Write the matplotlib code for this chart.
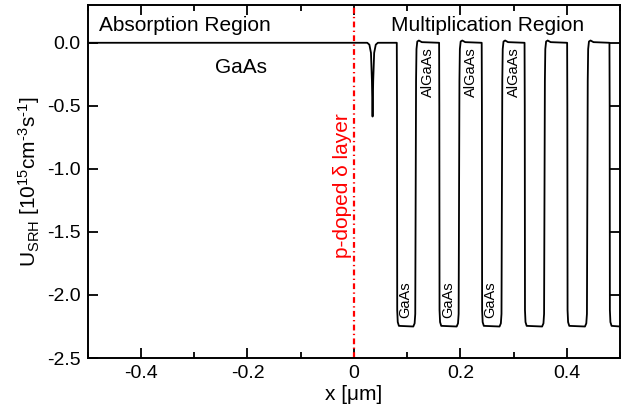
"""
SRH recombination rate across the absorption / multiplication regions.
"""

import matplotlib
matplotlib.use("Agg")
import matplotlib.pyplot as plt
from matplotlib.ticker import MultipleLocator


# -------------------------------------------------
# DATA
# -------------------------------------------------
# position x [um] and U_SRH [1e15 cm^-3 s^-1], vertex by vertex
x_um = [
    -0.5, 0.0250, 0.0290, 0.0320, 0.0338, 0.0350, 0.0362, 0.0380, 0.0410, 0.0450,
    # GaAs well 1
    0.0805, 0.0809, 0.0813, 0.0823, 0.0845, 0.1115, 0.1140, 0.1152,
    0.1167, 0.1175, 0.1190, 0.1220, 0.1275,
    # GaAs well 2
    0.1600, 0.1604, 0.1608, 0.1618, 0.1640, 0.1930, 0.1955, 0.1967,
    0.1982, 0.1990, 0.2005, 0.2035, 0.2090,
    # GaAs well 3
    0.2400, 0.2404, 0.2408, 0.2418, 0.2440, 0.2735, 0.2760, 0.2772,
    0.2787, 0.2795, 0.2810, 0.2840, 0.2895,
    # GaAs well 4
    0.3205, 0.3209, 0.3213, 0.3223, 0.3245, 0.3535, 0.3560, 0.3572,
    0.3587, 0.3595, 0.3610, 0.3640, 0.3695,
    # GaAs well 5
    0.4005, 0.4009, 0.4013, 0.4023, 0.4045, 0.4340, 0.4365, 0.4377,
    0.4392, 0.4400, 0.4415, 0.4445, 0.4500,
    # GaAs well 6 (cut by the axis)
    0.4800, 0.4804, 0.4808, 0.4818, 0.4840, 0.5000,
]
u_srh = [
    0.0, 0.0, -0.015, -0.08, -0.30, -0.585, -0.30, -0.08, -0.015, 0.0,
    0.0, -0.5, -2.12, -2.215, -2.245, -2.25, -2.225, -2.15,
    -0.30, -0.05, 0.010, 0.018, 0.005,
    0.0, -0.5, -2.12, -2.215, -2.245, -2.25, -2.225, -2.15,
    -0.30, -0.05, 0.010, 0.018, 0.005,
    0.0, -0.5, -2.12, -2.215, -2.245, -2.25, -2.225, -2.15,
    -0.30, -0.05, 0.010, 0.018, 0.005,
    0.0, -0.5, -2.12, -2.215, -2.245, -2.25, -2.225, -2.15,
    -0.30, -0.05, 0.010, 0.018, 0.005,
    0.0, -0.5, -2.12, -2.215, -2.245, -2.25, -2.225, -2.15,
    -0.30, -0.05, 0.010, 0.018, 0.005,
    0.0, -0.5, -2.12, -2.215, -2.245, -2.25,
]

delta_layer_x = 0.0

x_ticks = [-0.4, -0.2, 0.0, 0.2, 0.4]
x_tick_labels = ["-0.4", "-0.2", "0", "0.2", "0.4"]
y_ticks = [0.0, -0.5, -1.0, -1.5, -2.0, -2.5]
y_tick_labels = ["0.0", "-0.5", "-1.0", "-1.5", "-2.0", "-2.5"]

# layer labels
algaas_label_x = [0.140, 0.219, 0.300]
gaas_label_x = [0.097, 0.178, 0.257]


# -------------------------------------------------
# STYLE
# -------------------------------------------------
plt.rcParams["font.family"] = ["Liberation Sans", "DejaVu Sans"]
plt.rcParams["mathtext.fontset"] = "custom"
plt.rcParams["mathtext.rm"] = "Liberation Sans"
plt.rcParams["mathtext.it"] = "Liberation Sans:italic"
plt.rcParams["axes.unicode_minus"] = False
plt.rcParams["axes.linewidth"] = 1.4


# -------------------------------------------------
# PLOT
# -------------------------------------------------
fig = plt.figure(figsize=(6.36, 4.12), dpi=100)
ax = fig.add_axes([0.138, 0.131, 0.837, 0.857])

ax.plot(x_um, u_srh, color="black", lw=1.3)
ax.axvline(delta_layer_x, color="red", lw=1.6, linestyle=(0, (2.6, 1.5, 0.6, 1.5)))

ax.set_xlim(-0.5, 0.5)
ax.set_ylim(-2.5, 0.3)

ax.set_xticks(x_ticks)
ax.set_xticklabels(x_tick_labels)
ax.xaxis.set_minor_locator(MultipleLocator(0.1))
ax.set_yticks(y_ticks)
ax.set_yticklabels(y_tick_labels)

ax.tick_params(which="both", direction="in", top=True, right=True,
               labelsize=14, width=1.3)
ax.tick_params(which="major", length=7, pad=5)
ax.tick_params(which="minor", length=4)

ax.set_xlabel("x [μm]", fontsize=15, labelpad=2)
ax.set_ylabel(r"U$_{\rm SRH}$ [10$^{15}$cm$^{\text{-3}}$s$^{\text{-1}}$]",
              fontsize=15, labelpad=4)

# annotations
ax.text(-0.317, 0.135, "Absorption Region", fontsize=15, ha="center", va="center")
ax.text(0.251, 0.135, "Multiplication Region", fontsize=15, ha="center", va="center")
ax.text(-0.213, -0.20, "GaAs", fontsize=15, ha="center", va="center")
ax.text(-0.021, -1.13, "p-doped δ layer", fontsize=15, color="red",
        rotation=90, ha="center", va="center")

for xa in algaas_label_x:
    ax.text(xa, -0.235, "AlGaAs", fontsize=10.5, rotation=90,
            ha="center", va="center")
for xg in gaas_label_x:
    ax.text(xg, -2.04, "GaAs", fontsize=10.5, rotation=90,
            ha="center", va="center")

fig.savefig("out.png", dpi=100)
plt.close(fig)
